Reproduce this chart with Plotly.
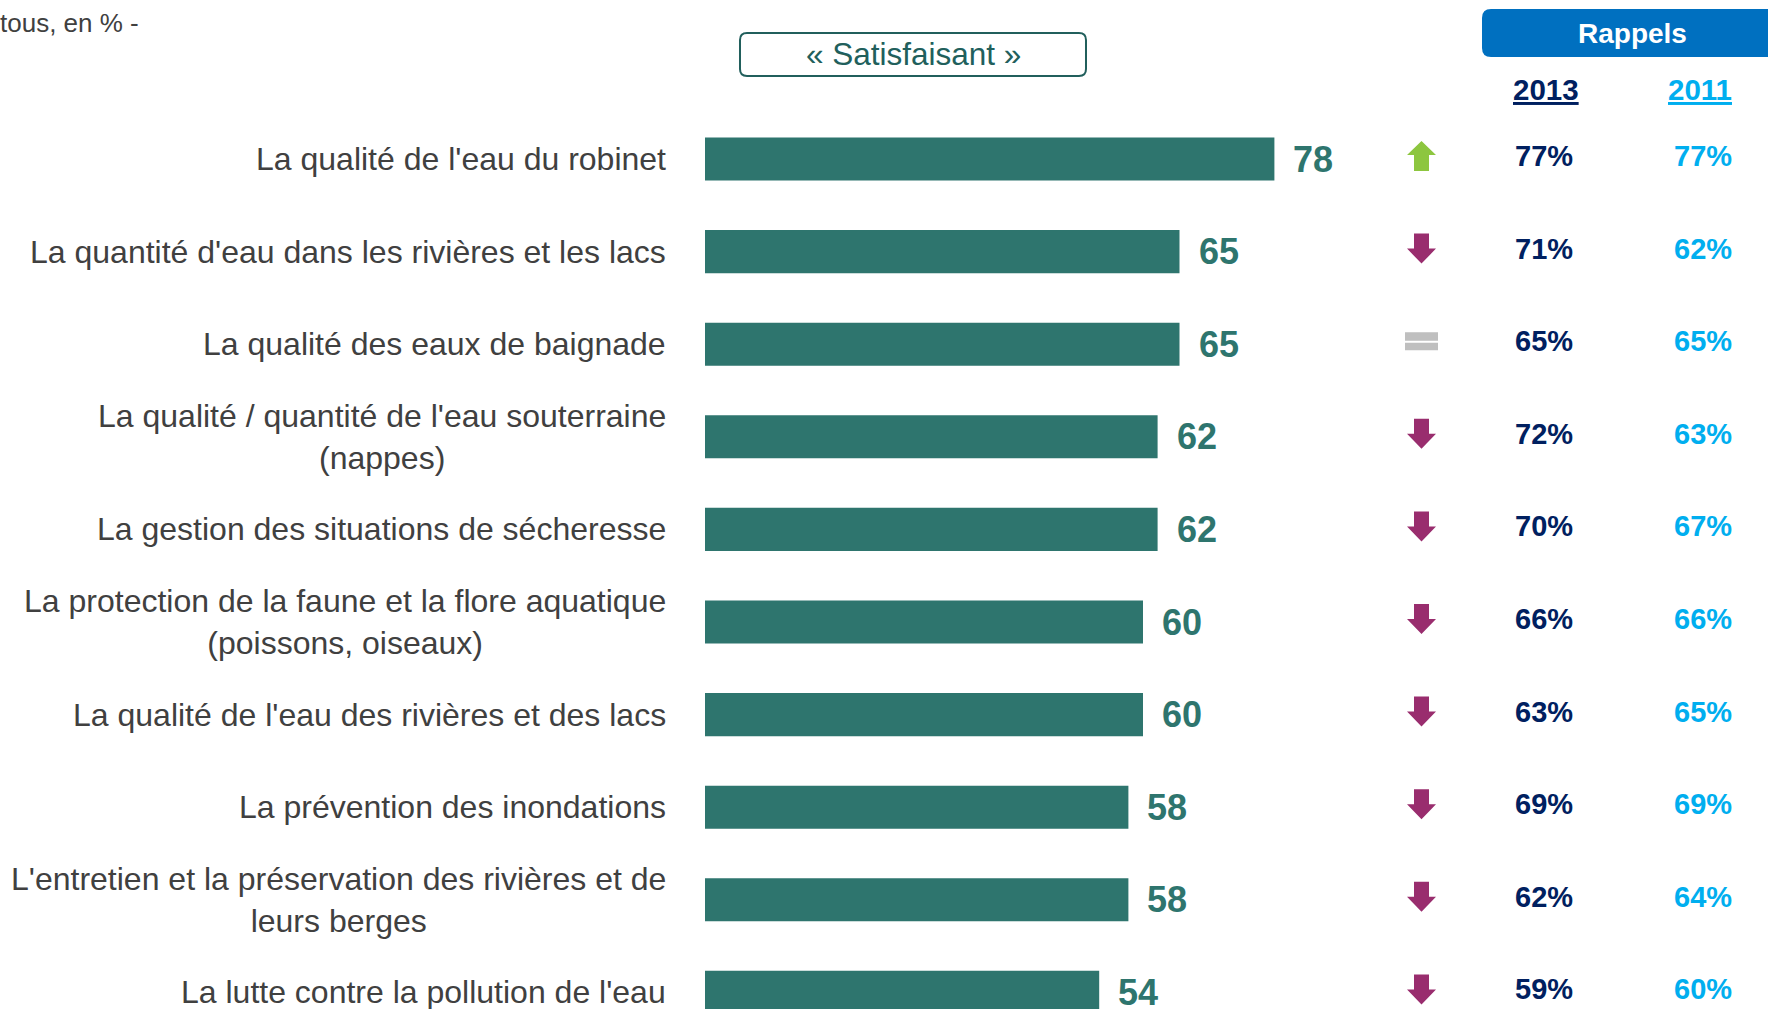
import plotly.graph_objects as go

# ---------------- data ----------------
categories = [
    "La qualité de l'eau du robinet",
    "La quantité d'eau dans les rivières et les lacs",
    "La qualité des eaux de baignade",
    "La qualité / quantité de l'eau souterraine<br>(nappes)",
    "La gestion des situations de sécheresse",
    "La protection de la faune et la flore aquatique<br>(poissons, oiseaux)",
    "La qualité de l'eau des rivières et des lacs",
    "La prévention des inondations",
    "L'entretien et la préservation des rivières et de<br>leurs berges",
    "La lutte contre la pollution de l'eau",
]
satisfaisant = [78, 65, 65, 62, 62, 60, 60, 58, 58, 54]
rappel_2013 = [77, 71, 65, 72, 70, 66, 63, 69, 62, 59]
rappel_2011 = [77, 62, 65, 63, 67, 66, 65, 69, 64, 60]
tendance = ["up", "down", "equal", "down", "down", "down", "down", "down", "down", "down"]
year_headers = ["2013", "2011"]

# ---------------- layout constants ----------------
W, H = 1768, 1009
X0_PX = 705          # pixel position of value 0
PX_PER_UNIT = 7.3
ROW0_PX = 159
ROW_STEP = 92.6

TEAL = "#2E756E"
TEAL_DARK = "#215F5C"
GREY_TXT = "#404040"
NAVY = "#002060"
CYAN = "#00AEEF"
BLUE_BOX = "#0070C0"
UP_COL = "#8DC63F"
DOWN_COL = "#992D6E"
EQ_COL = "#BFBFBF"
FONT = "Liberation Sans, Arial, sans-serif"

COL_LABEL_RIGHT = 668
COL_ARROW = 1421.5
COL_2013 = 1544
COL_2011 = 1703


def px(x):
    return x / W


def py(y):
    return 1 - y / H


def rounded_rect(x0, y0, x1, y1, r):
    pts = [
        ("M", [(x0 + r, y0)]),
        ("L", [(x1 - r, y0)]),
        ("Q", [(x1, y0), (x1, y0 + r)]),
        ("L", [(x1, y1 - r)]),
        ("Q", [(x1, y1), (x1 - r, y1)]),
        ("L", [(x0 + r, y1)]),
        ("Q", [(x0, y1), (x0, y1 - r)]),
        ("L", [(x0, y0 + r)]),
        ("Q", [(x0, y0), (x0 + r, y0)]),
    ]
    s = ""
    for cmd, ps in pts:
        s += cmd + " " + " ".join(f"{px(a):.6f},{py(b):.6f}" for a, b in ps) + " "
    return s + "Z"


rows = list(range(len(categories)))

fig = go.Figure()
fig.add_trace(
    go.Bar(
        x=satisfaisant,
        y=rows,
        orientation="h",
        width=0.465,
        marker=dict(color=TEAL, line=dict(width=0)),
        hoverinfo="skip",
        showlegend=False,
    )
)

annotations = []
shapes = []

# category labels
for i, lab in enumerate(categories):
    annotations.append(dict(
        x=px(COL_LABEL_RIGHT), xref="paper", y=i, yref="y",
        text=lab, showarrow=False, xanchor="right", yanchor="middle",
        align="center", font=dict(family=FONT, size=32, color=GREY_TXT),
    ))

# value labels
for i, v in enumerate(satisfaisant):
    annotations.append(dict(
        x=v, xref="x", y=i, yref="y", text=f"<b>{v}</b>", showarrow=False,
        xanchor="left", yanchor="middle", xshift=17, yshift=0,
        font=dict(family=FONT, size=36, color=TEAL),
    ))

# reminder columns
for i, (a, b) in enumerate(zip(rappel_2013, rappel_2011)):
    annotations.append(dict(
        x=px(COL_2013), xref="paper", y=i, yref="y", text=f"<b>{a}%</b>",
        showarrow=False, xanchor="center", yanchor="middle", yshift=3,
        font=dict(family=FONT, size=29, color=NAVY),
    ))
    annotations.append(dict(
        x=px(COL_2011), xref="paper", y=i, yref="y", text=f"<b>{b}%</b>",
        showarrow=False, xanchor="center", yanchor="middle", yshift=3,
        font=dict(family=FONT, size=29, color=CYAN),
    ))

# trend arrows
UP_PATH = "M 0,18 L 14.5,4 L 7.5,4 L 7.5,-12 L -7.5,-12 L -7.5,4 L -14.5,4 Z"
DOWN_PATH = "M -7.5,18 L 7.5,18 L 7.5,3 L 14.5,3 L 0,-12 L -14.5,3 L -7.5,3 Z"
EQ_PATH = "M -16.5,12 L 16.5,12 L 16.5,3.5 L -16.5,3.5 Z M -16.5,1.5 L 16.5,1.5 L 16.5,-6 L -16.5,-6 Z"
for i, t in enumerate(tendance):
    path, col = {"up": (UP_PATH, UP_COL), "down": (DOWN_PATH, DOWN_COL),
                 "equal": (EQ_PATH, EQ_COL)}[t]
    shapes.append(dict(
        type="path", xref="paper", yref="y", xsizemode="pixel", ysizemode="pixel",
        xanchor=px(COL_ARROW), yanchor=i, path=path, fillcolor=col,
        line=dict(width=0), layer="above",
    ))

# header boxes
shapes.append(dict(type="path", xref="paper", yref="paper",
                   path=rounded_rect(740, 33, 1086, 76, 7),
                   fillcolor="white", line=dict(color=TEAL_DARK, width=2)))
shapes.append(dict(type="path", xref="paper", yref="paper",
                   path=rounded_rect(1482, 9, 1800, 57, 9),
                   fillcolor=BLUE_BOX, line=dict(width=0)))

annotations.append(dict(
    x=px(913), xref="paper", y=py(54), yref="paper", text="« Satisfaisant »",
    showarrow=False, xanchor="center", yanchor="middle",
    font=dict(family=FONT, size=31.5, color=TEAL_DARK),
))
annotations.append(dict(
    x=px(1632), xref="paper", y=py(33), yref="paper", text="<b>Rappels</b>",
    showarrow=False, xanchor="center", yanchor="middle",
    font=dict(family=FONT, size=28, color="white"),
))
for txt, xc, col in zip(year_headers, [1545.5, 1700], [NAVY, CYAN]):
    annotations.append(dict(
        x=px(xc), xref="paper", y=py(90), yref="paper", text=f"<b><u>{txt}</u></b>",
        showarrow=False, xanchor="center", yanchor="middle",
        font=dict(family=FONT, size=29.5, color=col),
    ))
annotations.append(dict(
    x=0, xref="paper", y=py(23), yref="paper", text="tous, en % -",
    showarrow=False, xanchor="left", yanchor="middle", xshift=-2,
    font=dict(family=FONT, size=26, color=GREY_TXT),
))

fig.update_layout(
    width=W, height=H,
    margin=dict(l=0, r=0, t=0, b=0, pad=0),
    paper_bgcolor="white", plot_bgcolor="white",
    showlegend=False,
    xaxis=dict(range=[-X0_PX / PX_PER_UNIT, (W - X0_PX) / PX_PER_UNIT],
               visible=False, showgrid=False, zeroline=False, fixedrange=True),
    yaxis=dict(range=[(H - ROW0_PX) / ROW_STEP, -ROW0_PX / ROW_STEP],
               visible=False, showgrid=False, zeroline=False, fixedrange=True),
    annotations=annotations,
    shapes=shapes,
)

fig.write_html(
    "out.html",
    config={"displayModeBar": False},
    post_script="document.body.style.margin='0';document.documentElement.style.overflow='hidden';",
)
